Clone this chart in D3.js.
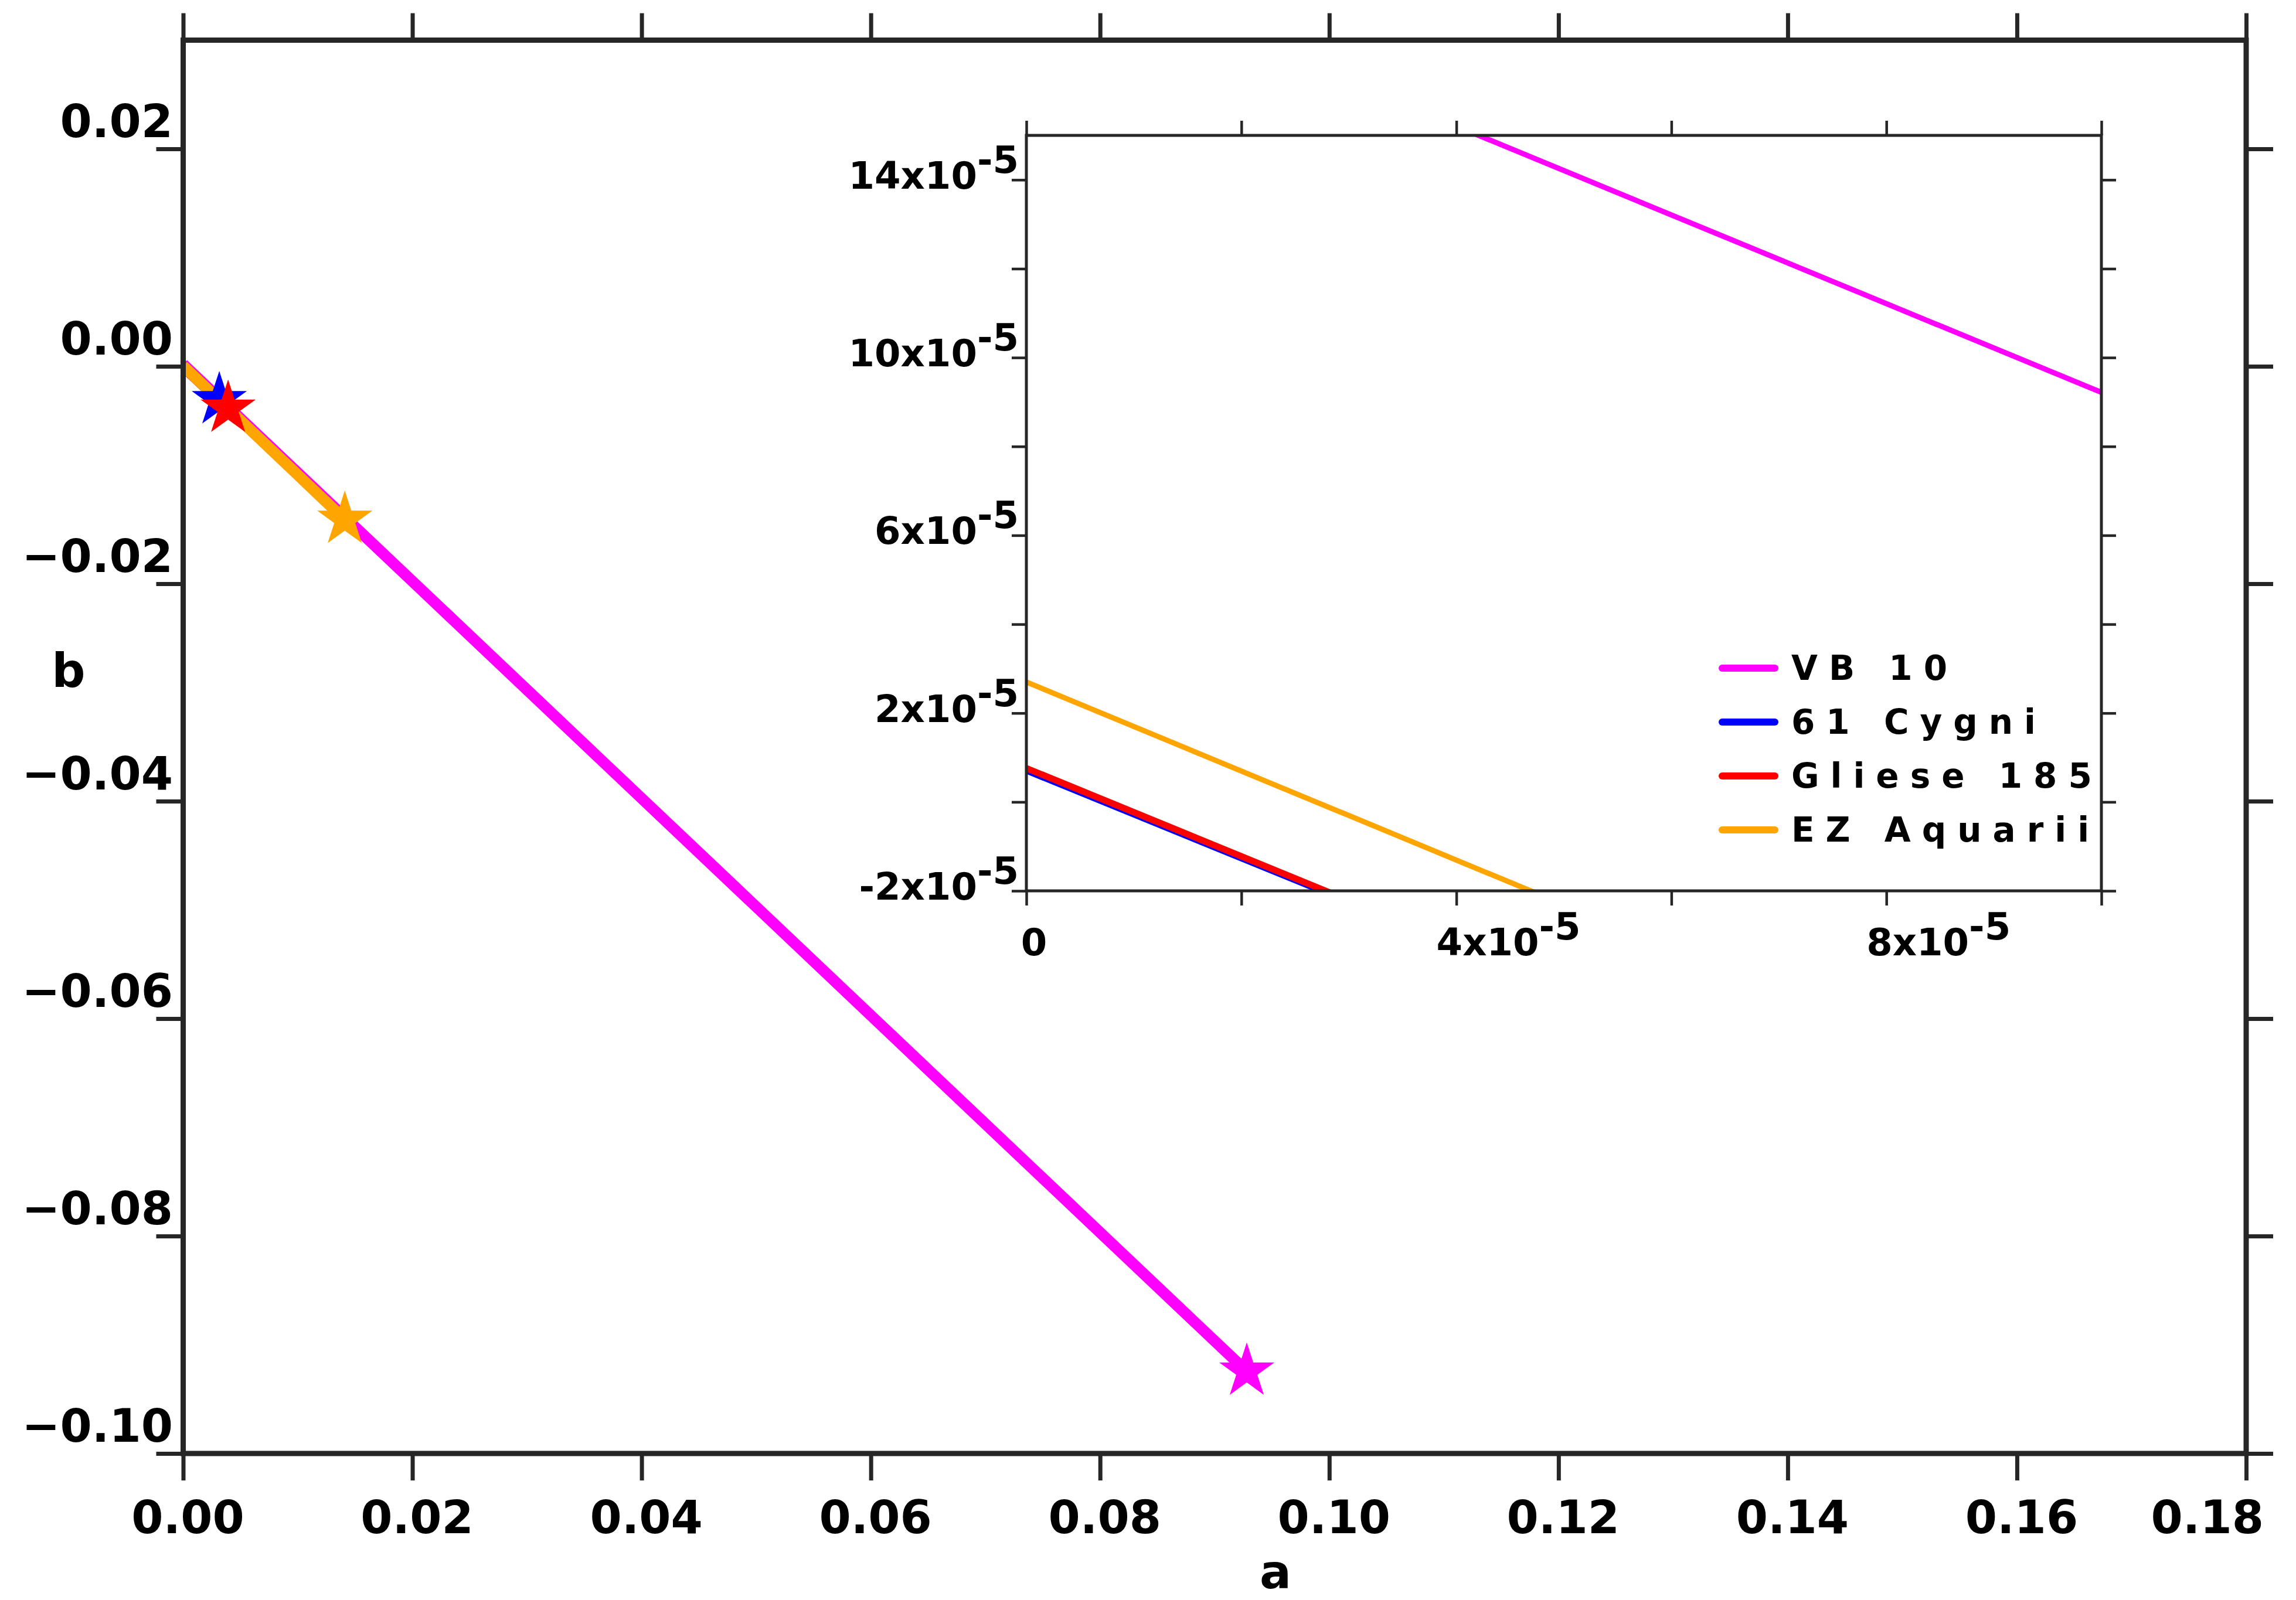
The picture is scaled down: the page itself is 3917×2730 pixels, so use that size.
<!DOCTYPE html>
<html>
<head>
<meta charset="utf-8">
<script src="https://cdn.jsdelivr.net/npm/d3@7"></script>
<style>
  body { margin: 0; background: #fff; }
  text { font-family: "DejaVu Sans", sans-serif; font-weight: bold; fill: #000; }
</style>
</head>
<body>
<div id="chart"></div>
<script>

// ---- data ----
const seriesNames  = ["VB 10", "61 Cygni", "Gliese 185", "EZ Aquarii"];
const seriesColors = ["#ff00ff", "#0000ff", "#ff0000", "#ffa500"];

// a values (start at a = 0, end at the star) and matching b values
const vb10A     = [0, 0.0928];
const vb10B     = [0.000192, -0.09245];
const cygniA    = [0, 0.00315];
const cygniB    = [0.0000068, -0.0031];
const glieseA   = [0, 0.00392];
const glieseB   = [0.0000076, -0.00388];
const aquariiA  = [0, 0.0141];
const aquariiB  = [0.000027, -0.0141];

// tick values
const mainXTicks   = [0, 0.02, 0.04, 0.06, 0.08, 0.10, 0.12, 0.14, 0.16, 0.18];
const mainYTicks   = [0.02, 0, -0.02, -0.04, -0.06, -0.08, -0.10];
const insetXTicks  = [0, 2e-5, 4e-5, 6e-5, 8e-5, 10e-5];
const insetXLabels = [0, 4e-5, 8e-5];
const insetYTicks  = [-2e-5, 0, 2e-5, 4e-5, 6e-5, 8e-5, 10e-5, 12e-5, 14e-5];
const insetYLabels = [-2e-5, 2e-5, 6e-5, 10e-5, 14e-5];

// ---- layout ----
const width = 3917;
const height = 2730;
const axisColor = "#262626";

const main = {left: 312.5, right: 3832, top: 68.5, bottom: 2480};
const inset = {left: 1751, right: 3585, top: 231, bottom: 1520};

// build series objects for the library
const series = [
  {name: seriesNames[0], color: seriesColors[0], a: vb10A,    b: vb10B,    w: 9},
  {name: seriesNames[1], color: seriesColors[1], a: cygniA,   b: cygniB,   w: 7},
  {name: seriesNames[2], color: seriesColors[2], a: glieseA,  b: glieseB,  w: 11},
  {name: seriesNames[3], color: seriesColors[3], a: aquariiA, b: aquariiB, w: 9}
].map(s => ({...s, pts: s.a.map((v, i) => [v, s.b[i]])}));

const svg = d3.select("#chart")
  .append("svg")
  .attr("width", width)
  .attr("height", height)
  .attr("viewBox", [0, 0, width, height]);

svg.append("rect").attr("width", width).attr("height", height).attr("fill", "#fff");

/*
  Main plot
*/
const x = d3.scaleLinear().domain([0, 0.18]).range([main.left, main.right]);
const y = d3.scaleLinear().domain([-0.10, 0.03]).range([main.bottom, main.top]);

svg.append("clipPath").attr("id", "mainClip")
  .append("rect")
  .attr("x", main.left).attr("y", main.top)
  .attr("width", main.right - main.left).attr("height", main.bottom - main.top);

const mainLine = d3.line().x(d => x(d[0])).y(d => y(d[1]));

svg.append("g")
  .attr("clip-path", "url(#mainClip)")
  .selectAll("path")
  .data(series)
  .join("path")
    .attr("d", d => mainLine(d.pts))
    .attr("fill", "none")
    .attr("stroke", d => d.color)
    .attr("stroke-width", 19);

// star at the end of each track
const star = d3.symbol().type(d3.symbolStar).size(2750);
svg.append("g")
  .selectAll("path")
  .data(series)
  .join("path")
    .attr("d", star)
    .attr("transform", d => {
      const p = d.pts[d.pts.length - 1];
      return `translate(${x(p[0])},${y(p[1])})`;
    })
    .attr("fill", d => d.color);

// ticks on all four sides, pointing outward
function styleAxis(g, w) {
  g.select(".domain").remove();
  g.selectAll(".tick line").attr("stroke", axisColor).attr("stroke-width", w);
  g.selectAll(".tick text").remove();
}

svg.append("g").attr("transform", `translate(0,${main.bottom})`)
  .call(d3.axisBottom(x).tickValues(mainXTicks).tickSize(46))
  .call(g => styleAxis(g, 7));
svg.append("g").attr("transform", `translate(0,${main.top})`)
  .call(d3.axisTop(x).tickValues(mainXTicks).tickSize(46))
  .call(g => styleAxis(g, 7));
svg.append("g").attr("transform", `translate(${main.left},0)`)
  .call(d3.axisLeft(y).tickValues(mainYTicks).tickSize(46))
  .call(g => styleAxis(g, 7));
svg.append("g").attr("transform", `translate(${main.right},0)`)
  .call(d3.axisRight(y).tickValues(mainYTicks).tickSize(46))
  .call(g => styleAxis(g, 7));

// frame
svg.append("rect")
  .attr("x", main.left).attr("y", main.top)
  .attr("width", main.right - main.left).attr("height", main.bottom - main.top)
  .attr("fill", "none")
  .attr("stroke", axisColor)
  .attr("stroke-width", 9);

// tick labels
const fmt = d3.format(".2f");
svg.append("g")
  .selectAll("text")
  .data(mainXTicks)
  .join("text")
    .attr("x", (d, i) => i === mainXTicks.length - 1 ? 3862 : x(d) + 8)
    .attr("y", 2616)
    .attr("text-anchor", (d, i) => i === mainXTicks.length - 1 ? "end" : "middle")
    .attr("font-size", 78)
    .text(fmt);

svg.append("g")
  .selectAll("text")
  .data(mainYTicks)
  .join("text")
    .attr("x", 295)
    .attr("y", d => y(d) - 20)
    .attr("text-anchor", "end")
    .attr("font-size", 78)
    .text(fmt);

// axis titles
svg.append("text").attr("x", 2176).attr("y", 2710)
  .attr("text-anchor", "middle").attr("font-size", 80).text("a");
svg.append("text").attr("x", 117).attr("y", 1172)
  .attr("text-anchor", "middle").attr("font-size", 80).text("b");

/*
  Inset (zoom near the origin)
*/
const xi = d3.scaleLinear().domain([0, 10e-5]).range([inset.left, inset.right]);
const yi = d3.scaleLinear().domain([-2e-5, 15e-5]).range([inset.bottom, inset.top]);

const gi = svg.append("g");

gi.append("rect")
  .attr("x", inset.left).attr("y", inset.top)
  .attr("width", inset.right - inset.left).attr("height", inset.bottom - inset.top)
  .attr("fill", "#fff");

gi.append("clipPath").attr("id", "insetClip")
  .append("rect")
  .attr("x", inset.left).attr("y", inset.top)
  .attr("width", inset.right - inset.left).attr("height", inset.bottom - inset.top);

const insetLine = d3.line().x(d => xi(d[0])).y(d => yi(d[1]));

gi.append("g")
  .attr("clip-path", "url(#insetClip)")
  .selectAll("path")
  .data(series)
  .join("path")
    .attr("d", d => insetLine(d.pts))
    .attr("fill", "none")
    .attr("stroke", d => d.color)
    .attr("stroke-width", d => d.w);

gi.append("g").attr("transform", `translate(0,${inset.bottom})`)
  .call(d3.axisBottom(xi).tickValues(insetXTicks).tickSize(25))
  .call(g => styleAxis(g, 4.5));
gi.append("g").attr("transform", `translate(0,${inset.top})`)
  .call(d3.axisTop(xi).tickValues(insetXTicks).tickSize(25))
  .call(g => styleAxis(g, 4.5));
gi.append("g").attr("transform", `translate(${inset.left},0)`)
  .call(d3.axisLeft(yi).tickValues(insetYTicks).tickSize(25))
  .call(g => styleAxis(g, 4.5));
gi.append("g").attr("transform", `translate(${inset.right},0)`)
  .call(d3.axisRight(yi).tickValues(insetYTicks).tickSize(25))
  .call(g => styleAxis(g, 4.5));

gi.append("rect")
  .attr("x", inset.left).attr("y", inset.top)
  .attr("width", inset.right - inset.left).attr("height", inset.bottom - inset.top)
  .attr("fill", "none")
  .attr("stroke", axisColor)
  .attr("stroke-width", 5);

// "Nx10^-5" labels with a raised exponent
function sciLabel(sel) {
  sel.each(function(d) {
    const t = d3.select(this);
    const m = Math.round(d / 1e-5);
    if (m === 0) { t.text("0"); return; }
    t.append("tspan").text(m + "x10");
    t.append("tspan").attr("dy", -27).text("-5");
  });
}

gi.append("g")
  .selectAll("text")
  .data(insetYLabels)
  .join("text")
    .attr("x", 1738)
    .attr("y", d => yi(d) + 15)
    .attr("text-anchor", "end")
    .attr("font-size", 64)
    .call(sciLabel);

gi.append("g")
  .selectAll("text")
  .data(insetXLabels)
  .join("text")
    .attr("x", d => d === 0 ? xi(d) + 13 : xi(d) - 34)
    .attr("y", 1630)
    .attr("text-anchor", d => d === 0 ? "middle" : "start")
    .attr("font-size", 64)
    .call(sciLabel);

// legend
const legend = gi.append("g")
  .selectAll("g")
  .data(series)
  .join("g")
    .attr("transform", (d, i) => `translate(2938,${1140 + i * 92})`);

legend.append("line")
  .attr("x1", 0).attr("x2", 90)
  .attr("stroke", d => d.color)
  .attr("stroke-width", 12)
  .attr("stroke-linecap", "round");

legend.append("text")
  .attr("x", 118)
  .attr("y", 20)
  .attr("font-size", 58)
  .attr("letter-spacing", 19)
  .text(d => d.name);

</script>
</body>
</html>
